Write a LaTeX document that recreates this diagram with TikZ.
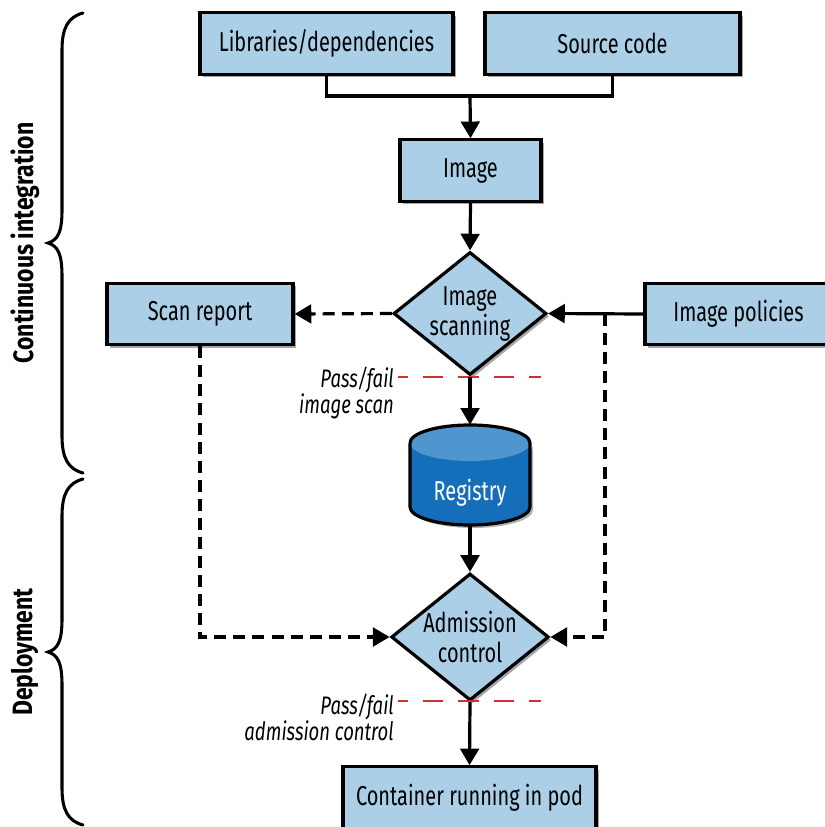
\documentclass[tikz,border=0pt]{standalone}
\usepackage{fontspec}
\setmainfont{Fira Sans}[FakeStretch=0.73]
\newfontfamily\phasefont{Fira Sans}[FakeStretch=0.82]
\usetikzlibrary{arrows.meta,shapes.geometric,shadows}

\definecolor{boxblue}{RGB}{170,207,231}
\definecolor{regtop}{RGB}{78,150,205}
\definecolor{regbody}{RGB}{20,110,185}
\definecolor{passred}{RGB}{209,47,56}

\tikzset{
  heavy/.style={line width=2.4pt},
  shade box/.style={drop shadow={shadow xshift=2.2pt, shadow yshift=-2.2pt, opacity=0.35, fill=black}},
  boxtext/.style={font=\fontsize{20.5}{22}\selectfont},
  stepbox/.style={heavy, draw=black, fill=boxblue, inner sep=0pt, boxtext, shade box,
                  minimum height=46pt},
  decision/.style={heavy, draw=black, fill=boxblue, diamond, inner sep=0pt, aspect=1.24,
                   minimum width=114.75pt, minimum height=92.25pt, align=center,
                   font=\fontsize{20.5}{22.5}\selectfont, shade box},
  flow/.style={heavy, -{Triangle[width=14pt,length=12.5pt]}},
  dashflow/.style={flow, dash pattern=on 9pt off 5.3pt},
  plain/.style={heavy},
  gate/.style={line width=2.2pt, passred, dash pattern=on 15.4pt off 11.2pt, dash phase=7.9pt},
  gatelabel/.style={anchor=east, align=right, inner sep=0pt,
                    font=\itshape\fontsize{19}{19.5}\selectfont},
  phase/.style={rotate=90, font=\phasefont\bfseries\fontsize{21}{23}\selectfont, inner sep=0pt},
  brace/.style={line width=2.3pt, line cap=round},
}

\begin{document}
\begin{tikzpicture}[x=0.75pt, y=-0.75pt]
\useasboundingbox (0,0) rectangle (824,827);

% sources
\node[stepbox, minimum width=189.75pt] (libs) at (326.5,43.5) {Libraries/dependencies};
\node[stepbox, minimum width=191.25pt] (src)  at (612.5,43.5) {Source code};
\node[stepbox, minimum width=105.75pt] (img)  at (470.5,170.5) {Image};

% scanning stage
\node[decision] (scanning) at (470,313.5) {Image\\scanning};
\node[stepbox, minimum width=139.5pt] (report)   at (200,314) {Scan report};
\node[stepbox, minimum width=140.25pt] (policies) at (738.5,314) {Image policies};

% registry cylinder
\fill[black, opacity=0.3] (413,446) -- (413,510) arc[start angle=180, end angle=0, x radius=60, y radius=18] -- (533,446) arc[start angle=0, end angle=180, x radius=60, y radius=18] -- cycle;
\fill[regbody] (410,443) -- (410,507) arc[start angle=180, end angle=0, x radius=60, y radius=18] -- (530,443) -- cycle;
\fill[regtop] (470,443) ellipse[x radius=60, y radius=18];
\draw[heavy, line join=round] (410,443) -- (410,507) arc[start angle=180, end angle=0, x radius=60, y radius=18] -- (530,443) arc[start angle=0, end angle=-180, x radius=60, y radius=18];
\node[minimum width=90pt, minimum height=75pt, inner sep=0pt] (reg) at (470,475) {};
\node[text=white, boxtext, inner sep=0pt] (reglabel) at (470,493) {Registry};

% deployment stage
\node[decision] (admission) at (470,637) {Admission\\control};
\node[stepbox, minimum width=189.75pt] (container) at (469.5,797.5) {Container running in pod};

% pass/fail gates
\draw[gate] (398,377) -- (541,377);
\draw[gate] (398,701) -- (541,701);
\node[gatelabel] (gate1) at (394,393) {Pass/fail\\image scan};
\node[gatelabel] (gate2) at (394,717) {Pass/fail\\admission control};

% connectors
\coordinate (join) at (470,96);
\coordinate (tap) at (605,314);
\draw[plain] (libs.south) |- (join) -| (src.south);
\draw[flow] (join) -- (img.north);
\draw[flow] (img.south) -- (scanning.north);
\draw[dashflow] (scanning.west) -- (report.east);
\draw[flow] (policies.west) -- (scanning.east);
\draw[flow] (scanning.south) -- (reg.north);
\draw[flow] (reg.south) -- (admission.north);
\draw[flow] (admission.south) -- (container.north);
\draw[dashflow] (report.south) |- (admission.west);
\draw[dashflow] (tap) |- (admission.east);

% phase braces
\draw[brace]
  (83,13) .. controls (68,17) and (62,28) .. (62,50) -- (62,210)
  .. controls (62,232) and (58,240) .. (48,243)
  .. controls (58,246) and (62,254) .. (62,276) -- (62,436)
  .. controls (62,458) and (68,469) .. (83,473);
\draw[brace]
  (83,479) .. controls (68,483) and (62,494) .. (62,516) -- (62,619)
  .. controls (62,641) and (58,649) .. (48,652)
  .. controls (58,655) and (62,663) .. (62,685) -- (62,788)
  .. controls (62,810) and (68,821) .. (83,825);
\node[phase] (ci) at (25,243) {Continuous integration};
\node[phase] (deploy) at (25,652) {Deployment};
\end{tikzpicture}
\end{document}
